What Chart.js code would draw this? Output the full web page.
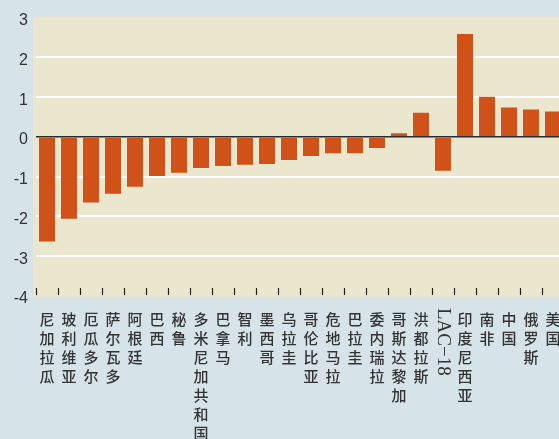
<!DOCTYPE html>
<html>
<head>
<meta charset="utf-8">
<script src="https://cdn.jsdelivr.net/npm/chart.js@4"></script>
<style>
    html, body { margin: 0; padding: 0; background: #d6e3e8; overflow: hidden; }
    #wrap { width: 564px; height: 439px; }
</style>
</head>
<body>
<div id="wrap"><canvas id="barChart"></canvas></div>
<script>
const categories = [
    '尼加拉瓜', '玻利维亚', '厄瓜多尔', '萨尔瓦多', '阿根廷', '巴西', '秘鲁',
    '多米尼加共和国', '巴拿马', '智利', '墨西哥', '乌拉圭', '哥伦比亚', '危地马拉',
    '巴拉圭', '委内瑞拉', '哥斯达黎加', '洪都拉斯', 'LAC−18', '印度尼西亚',
    '南非', '中国', '俄罗斯', '美国'
];
const values = [
    -2.63, -2.06, -1.65, -1.43, -1.25, -0.98, -0.90,
    -0.78, -0.73, -0.70, -0.68, -0.58, -0.48, -0.41,
    -0.41, -0.28, 0.09, 0.61, -0.85, 2.59,
    1.01, 0.74, 0.69, 0.64
];
const yTicks = [3, 2, 1, 0, -1, -2, -3, -4];
const rotatedLabel = 'LAC−18'; // drawn sideways, not stacked

// cream plot panel + small boundary ticks + the rotated label
const panelPlugin = {
    id: 'panel',
    beforeDraw(chart) {
        const { ctx, chartArea: a } = chart;
        ctx.save();
        ctx.fillStyle = '#ebe7cf';
        ctx.fillRect(a.left - 3, a.top - 1, a.right - a.left + 3, a.bottom - a.top + 2);
        ctx.restore();
    },
    afterDraw(chart) {
        const { ctx, chartArea: a } = chart;
        const xs = chart.scales.x;
        const half = (xs.getPixelForValue(1) - xs.getPixelForValue(0)) / 2;
        ctx.save();
        ctx.strokeStyle = '#222';
        ctx.lineWidth = 1.2;
        for (let i = 0; i <= categories.length; i++) {
            const x = Math.round(xs.getPixelForValue(i) - half) + 0.5;
            ctx.beginPath();
            ctx.moveTo(x, a.bottom - 8);
            ctx.lineTo(x, a.bottom - 1);
            ctx.stroke();
        }
        const idx = categories.indexOf(rotatedLabel);
        ctx.translate(xs.getPixelForValue(idx), a.bottom + 12);
        ctx.rotate(Math.PI / 2);
        ctx.fillStyle = '#333';
        ctx.font = '19px "Liberation Serif", serif';
        ctx.textAlign = 'left';
        ctx.textBaseline = 'middle';
        ctx.fillText(rotatedLabel, 0, 0);
        ctx.restore();
    }
};

new Chart(document.getElementById('barChart'), {
    type: 'bar',
    data: {
        labels: categories,
        datasets: [{
            data: values,
            backgroundColor: '#d15219',
            barPercentage: 16 / 22,
            categoryPercentage: 1
        }]
    },
    options: {
        responsive: true,
        maintainAspectRatio: false,
        animation: false,
        layout: { padding: { top: 16, left: 0, right: 0, bottom: 0 } },
        plugins: {
            legend: { display: false },
            tooltip: { enabled: false }
        },
        scales: {
            x: {
                grid: { display: false },
                border: { display: false },
                ticks: {
                    autoSkip: false,
                    maxRotation: 0,
                    minRotation: 0,
                    padding: 6,
                    color: '#333',
                    font: { family: '"Noto Sans CJK SC", sans-serif', size: 15, weight: '500', lineHeight: 1.26 },
                    callback: function(value, index) {
                        const name = categories[index];
                        return name === rotatedLabel ? '' : Array.from(name);
                    }
                },
                afterFit: function(scale) {
                    scale.height = 143;
                    scale.paddingLeft = 0;
                    scale.paddingRight = 0;
                }
            },
            y: {
                min: -4,
                max: 3,
                border: { display: false },
                grid: {
                    drawTicks: false,
                    lineWidth: function(c) { return c.tick.value === 0 ? 1.6 : 2; },
                    color: function(c) {
                        const v = c.tick.value;
                        if (v === 0) return '#2a2a2a';
                        if (v === 3 || v === -4) return 'rgba(0,0,0,0)';
                        return '#ffffff';
                    }
                },
                afterBuildTicks: function(scale) {
                    scale.ticks = yTicks.map(v => ({ value: v }));
                },
                ticks: {
                    padding: 8,
                    labelOffset: 3,
                    color: '#333',
                    font: { family: '"Liberation Sans", Arial, sans-serif', size: 16 },
                    callback: function(value) { return String(value); }
                },
                afterFit: function(scale) { scale.width = 36; }
            }
        }
    },
    plugins: [panelPlugin]
});
</script>
</body>
</html>
